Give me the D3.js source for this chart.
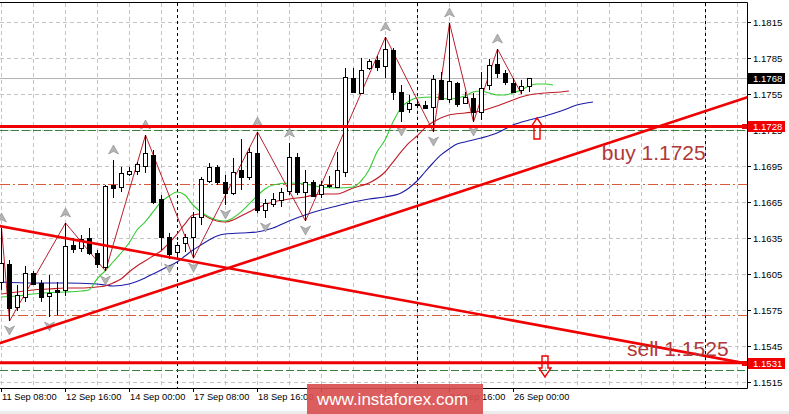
<html>
<head>
<script src="https://d3js.org/d3.v7.min.js"></script>
<style>
  body { margin: 0; background: #fff; }
  text { font-family: "Liberation Sans", Arial, sans-serif; }
</style>
</head>
<body>
<svg id="chart" width="789" height="414"></svg>
<script>
// EURUSD H4, bar 0 = 11 Sep 08:00
const opens = [1.15983,1.16133,1.15775,1.15858,1.16058,1.15975,1.15867,1.15917,1.15917,1.16292,
  1.16267,1.16350,1.16225,1.16108,1.16792,1.16775,1.16883,1.16908,1.16950,1.17042,
  1.16675,1.16358,1.16233,1.16308,1.16358,1.16525,1.16825,1.16942,1.16817,1.16725,
  1.16917,1.16858,1.17058,1.16583,1.16633,1.16667,1.16742,1.17025,1.16733,1.16817,
  1.16717,1.16792,1.16775,1.16900,1.17683,1.17558,1.17767,1.17833,1.17783,1.17917,
  1.17567,1.17425,1.17467,1.17458,1.17442,1.17667,1.17508,1.17642,1.17475,1.17517,
  1.17400,1.17625,1.17800,1.17725,1.17642,1.17583,1.17617];
const highs = [1.16433,1.16167,1.15958,1.16117,1.16075,1.16000,1.16042,1.15983,1.16475,1.16350,
  1.16375,1.16433,1.16250,1.16792,1.17000,1.16942,1.16942,1.16983,1.17208,1.17083,
  1.16708,1.16392,1.16317,1.16383,1.16567,1.16858,1.16975,1.16958,1.16875,1.17017,
  1.17175,1.17100,1.17233,1.16675,1.16725,1.16767,1.17142,1.17058,1.16917,1.16833,
  1.16825,1.16867,1.17067,1.17767,1.17767,1.17850,1.17842,1.17867,1.18025,1.17933,
  1.17625,1.17542,1.17500,1.17492,1.17708,1.17733,1.18142,1.17650,1.17567,1.17558,
  1.17733,1.17842,1.17925,1.17750,1.17683,1.17667,1.17683];
const lows = [1.15917,1.15658,1.15742,1.15817,1.15958,1.15817,1.15692,1.15708,1.15867,1.16225,
  1.16233,1.16208,1.16100,1.16075,1.16683,1.16733,1.16867,1.16875,1.16892,1.16633,
  1.16250,1.16175,1.16192,1.16233,1.16183,1.16458,1.16808,1.16792,1.16625,1.16708,
  1.16750,1.16833,1.16558,1.16517,1.16608,1.16608,1.16708,1.16708,1.16492,1.16692,
  1.16683,1.16767,1.16767,1.16858,1.17558,1.17558,1.17750,1.17742,1.17683,1.17500,
  1.17317,1.17392,1.17433,1.17425,1.17233,1.17500,1.17475,1.17442,1.17467,1.17317,
  1.17333,1.17583,1.17683,1.17625,1.17558,1.17550,1.17567];
const closes = [1.16142,1.15767,1.15875,1.16058,1.15967,1.15858,1.15892,1.15900,1.16283,1.16258,
  1.16342,1.16225,1.16133,1.16783,1.16767,1.16892,1.16908,1.16967,1.17058,1.16650,
  1.16358,1.16217,1.16292,1.16358,1.16525,1.16842,1.16942,1.16817,1.16725,1.16900,
  1.16858,1.17067,1.16583,1.16642,1.16675,1.16733,1.17025,1.16733,1.16817,1.16700,
  1.16792,1.16783,1.16917,1.17692,1.17567,1.17750,1.17825,1.17775,1.17925,1.17567,
  1.17408,1.17475,1.17460,1.17433,1.17675,1.17508,1.17658,1.17467,1.17525,1.17400,
  1.17600,1.17792,1.17725,1.17650,1.17567,1.17617,1.17680];

// Alligator lines: [bar, price]
const lips = [[0,1.15858],[2,1.15867],[4,1.15883],[6,1.15896],[8,1.15900],[10,1.15908],[11,1.15917],
  [12,1.16008],[13,1.16075],[14,1.16150],[15,1.16225],[16,1.16308],[17,1.16417],[18,1.16483],
  [19,1.16567],[20,1.16650],[21,1.16700],[22,1.16733],[23,1.16708],[24,1.16625],[25,1.16567],
  [26,1.16525],[27,1.16500],[28,1.16492],[29,1.16517],[30,1.16567],[31,1.16633],[32,1.16700],
  [33,1.16758],[34,1.16792],[36,1.16808],[38,1.16800],[40,1.16775],[42,1.16767],[44,1.16775],
  [45,1.16825],[46,1.16917],[47,1.17067],[48,1.17167],[49,1.17317],[50,1.17433],[51,1.17492],
  [52,1.17517],[54,1.17525],[56,1.17508],[58,1.17533],[59,1.17567],[60,1.17575],[61,1.17558],
  [62,1.17542],[63,1.17542],[64,1.17558],[65,1.17583],[66,1.17617],[67,1.17633],[68,1.17633],[69,1.17625]];
const teeth = [[0,1.15883],[2,1.15900],[4,1.15917],[6,1.15925],[8,1.15933],[10,1.15933],[12,1.15942],
  [13,1.15950],[14,1.15975],[15,1.16008],[16,1.16067],[17,1.16117],[18,1.16158],[19,1.16200],
  [20,1.16242],[21,1.16308],[22,1.16383],[23,1.16467],[24,1.16542],[25,1.16550],[26,1.16517],
  [27,1.16492],[28,1.16483],[29,1.16500],[30,1.16533],[31,1.16567],[32,1.16600],[34,1.16650],
  [36,1.16675],[38,1.16692],[40,1.16717],[42,1.16717],[44,1.16767],[46,1.16808],[48,1.16900],
  [49,1.16983],[50,1.17067],[51,1.17142],[52,1.17200],[53,1.17267],[54,1.17317],[56,1.17375],
  [58,1.17392],[60,1.17408],[62,1.17450],[63,1.17475],[64,1.17500],[65,1.17525],[66,1.17542],
  [68,1.17558],[70,1.17567],[71,1.17575]];
const jaw = [[0,1.15983],[4,1.15975],[8,1.15975],[12,1.15967],[13,1.15958],[14,1.15950],[16,1.15967],
  [18,1.16017],[19,1.16050],[20,1.16083],[21,1.16117],[22,1.16150],[23,1.16200],[24,1.16250],
  [25,1.16292],[26,1.16333],[27,1.16367],[28,1.16383],[30,1.16392],[32,1.16400],[34,1.16433],
  [36,1.16492],[38,1.16542],[40,1.16583],[42,1.16617],[44,1.16650],[46,1.16675],[48,1.16692],
  [50,1.16725],[51,1.16767],[52,1.16825],[53,1.16900],[54,1.16975],[55,1.17042],[56,1.17092],
  [57,1.17133],[58,1.17150],[60,1.17183],[62,1.17225],[64,1.17292],[66,1.17333],[68,1.17367],
  [70,1.17408],[72,1.17458],[74,1.17483]];

// zigzag turning bars, alternating high / low
const zigzagBars = [0,1,8,13,18,24,32,38,48,54,56,59,62,65];
const fractalUpBars = [0,8,14,18,32,36,48,56,62];
const fractalDownBars = [1,6,13,21,24,28,33,38,50,54,59];

const priceTicks = [1.1815,1.1785,1.1755,1.1725,1.1695,1.1665,1.1635,1.1605,1.1575,1.1545,1.1515];
const timeTickBars = [0,8,16,24,32,40,48,56,64];
// labels at bars 40 and 48 sit under the watermark and are not visible
const timeLabels = ["11 Sep 08:00","12 Sep 16:00","14 Sep 00:00","17 Sep 08:00","18 Sep 16:00",
  "","","24 Sep 16:00","26 Sep 00:00"];

const redLevels = [1.1728, 1.1531];
const greenLevels = [1.1725, 1.1525];
const dashDotLevels = [1.1680, 1.1571];
const separatorBars = [22, 52, 88];
const upTrend = [[-1,1.15455],[94,1.17538]];
const downTrend = [[-1,1.16460],[94,1.15294]];
const buyArrow = [67, 1.1735];
const sellArrow = [68, 1.15192];
const notes = [{t:"buy 1.1725", i:75.1, p:1.1700}, {t:"sell 1.1525", i:78.25, p:1.15367}];

const plotRight = 747, plotTop = 3, plotBottom = 388;
const x = d3.scaleLinear().domain([0, 66]).range([1, 529]);
const y = d3.scaleLinear().domain([1.1515, 1.1815]).range([382, 22]);

const svg = d3.select("#chart");
svg.append("rect").attr("width", 789).attr("height", 414).attr("fill", "#fff");
svg.append("rect").attr("y", 411).attr("width", 789).attr("height", 3).attr("fill", "#ececec");

svg.append("defs").append("clipPath").attr("id", "plot")
  .append("rect").attr("x", 0).attr("y", plotTop).attr("width", plotRight).attr("height", plotBottom - plotTop);
const g = svg.append("g").attr("clip-path", "url(#plot)");

// grid
g.selectAll(".vg").data(d3.range(0, 96, 4)).enter().append("line")
  .attr("x1", d => Math.round(x(d)) + 0.5).attr("x2", d => Math.round(x(d)) + 0.5)
  .attr("y1", plotTop).attr("y2", plotBottom)
  .attr("stroke", "#c4c4c4").attr("stroke-dasharray", "4,3");
g.selectAll(".hg").data(priceTicks).enter().append("line")
  .attr("x1", 0).attr("x2", plotRight)
  .attr("y1", d => Math.round(y(d)) + 0.5).attr("y2", d => Math.round(y(d)) + 0.5)
  .attr("stroke", "#c4c4c4").attr("stroke-dasharray", "4,3");

// period separators
g.selectAll(".sep").data(separatorBars).enter().append("line")
  .attr("x1", d => Math.round(x(d)) + 0.5).attr("x2", d => Math.round(x(d)) + 0.5)
  .attr("y1", plotTop).attr("y2", plotBottom)
  .attr("stroke", "#000").attr("stroke-dasharray", "3,3");

// bid line
g.append("line").attr("x1", 0).attr("x2", plotRight)
  .attr("y1", Math.round(y(closes[66])) + 0.5).attr("y2", Math.round(y(closes[66])) + 0.5)
  .attr("stroke", "#b4b4b4");

g.selectAll(".dd").data(dashDotLevels).enter().append("line")
  .attr("x1", 0).attr("x2", plotRight)
  .attr("y1", d => Math.round(y(d)) + 0.5).attr("y2", d => Math.round(y(d)) + 0.5)
  .attr("stroke", "#d95a36").attr("stroke-dasharray", "10,3,2,3");
g.selectAll(".gl").data(greenLevels).enter().append("line")
  .attr("x1", 0).attr("x2", plotRight)
  .attr("y1", d => Math.round(y(d)) + 0.5).attr("y2", d => Math.round(y(d)) + 0.5)
  .attr("stroke", "#3d7d3d").attr("stroke-dasharray", "8,3");

// alligator
const line = d3.line().x(d => x(d[0])).y(d => y(d[1])).curve(d3.curveMonotoneX);
g.append("path").datum(jaw).attr("d", line).attr("fill", "none").attr("stroke", "#1c1ca6").attr("stroke-width", 1.1);
g.append("path").datum(teeth).attr("d", line).attr("fill", "none").attr("stroke", "#c01c28").attr("stroke-width", 1.1);
g.append("path").datum(lips).attr("d", line).attr("fill", "none").attr("stroke", "#33cc33").attr("stroke-width", 1.1);

// zigzag
const zz = zigzagBars.map((b, k) => [b, k % 2 === 0 ? highs[b] : lows[b]]);
g.append("path").datum(zz)
  .attr("d", d3.line().x(d => x(d[0]) + 0.5).y(d => y(d[1])))
  .attr("fill", "none").attr("stroke", "#b8202c").attr("stroke-width", 1);

// candles
const bars = d3.range(opens.length);
const cg = g.append("g");
cg.selectAll(".wick").data(bars).enter().append("line")
  .attr("x1", i => Math.round(x(i)) + 0.5).attr("x2", i => Math.round(x(i)) + 0.5)
  .attr("y1", i => y(highs[i])).attr("y2", i => y(lows[i]))
  .attr("stroke", "#000");
cg.selectAll(".body").data(bars).enter().append("rect")
  .attr("x", i => Math.round(x(i)) - 1.5)
  .attr("width", 4)
  .attr("y", i => Math.round(y(Math.max(opens[i], closes[i]))) + 0.5)
  .attr("height", i => Math.max(1, Math.round(y(Math.min(opens[i], closes[i]))) - Math.round(y(Math.max(opens[i], closes[i])))))
  .attr("fill", i => closes[i] >= opens[i] ? "#fff" : "#000")
  .attr("stroke", "#000");

// fractals
const upShape = "M0,-5 L5,4 L0,1.5 L-5,4 Z";
g.selectAll(".fu").data(fractalUpBars).enter().append("path")
  .attr("d", upShape)
  .attr("transform", i => `translate(${Math.round(x(i)) + 0.5},${y(highs[i]) - 10})`)
  .attr("fill", "#b4b4b4").attr("stroke", "#8a8a8a").attr("stroke-width", 0.6);
g.selectAll(".fd").data(fractalDownBars).enter().append("path")
  .attr("d", upShape)
  .attr("transform", i => `translate(${Math.round(x(i)) + 0.5},${y(lows[i]) + 9}) rotate(180)`)
  .attr("fill", "#b4b4b4").attr("stroke", "#8a8a8a").attr("stroke-width", 0.6);

// horizontal levels and trend lines
g.selectAll(".rl").data(redLevels).enter().append("line")
  .attr("x1", 0).attr("x2", plotRight)
  .attr("y1", d => y(d)).attr("y2", d => y(d))
  .attr("stroke", "#f00000").attr("stroke-width", 3);
[upTrend, downTrend].forEach(t => {
  g.append("line")
    .attr("x1", x(t[0][0])).attr("y1", y(t[0][1]))
    .attr("x2", x(t[1][0])).attr("y2", y(t[1][1]))
    .attr("stroke", "#f00000").attr("stroke-width", 2.6);
});

// buy / sell arrows
g.append("path").attr("d", "M0,0 L6,9 L3,9 L3,21 L-3,21 L-3,9 L-6,9 Z")
  .attr("transform", `translate(${x(buyArrow[0])},${y(buyArrow[1])})`)
  .attr("fill", "none").attr("stroke", "#f00000").attr("stroke-width", 1.4);
g.append("path").attr("d", "M0,0 L6,-9 L3,-9 L3,-21 L-3,-21 L-3,-9 L-6,-9 Z")
  .attr("transform", `translate(${x(sellArrow[0])},${y(sellArrow[1])})`)
  .attr("fill", "none").attr("stroke", "#f00000").attr("stroke-width", 1.4);

g.selectAll(".note").data(notes).enter().append("text")
  .attr("x", d => x(d.i)).attr("y", d => y(d.p))
  .attr("font-size", 21).attr("fill", "#b03838")
  .text(d => d.t);

// frame
svg.append("line").attr("x1", 0).attr("x2", plotRight + 0.5).attr("y1", plotBottom + 0.5).attr("y2", plotBottom + 0.5).attr("stroke", "#000");
svg.append("line").attr("x1", plotRight + 0.5).attr("x2", plotRight + 0.5).attr("y1", plotTop - 0.5).attr("y2", plotBottom + 0.5).attr("stroke", "#000");
svg.append("line").attr("x1", 0).attr("x2", plotRight + 0.5).attr("y1", plotTop - 0.5).attr("y2", plotTop - 0.5).attr("stroke", "#000");

// right axis
svg.selectAll(".pt").data(priceTicks).enter().append("line")
  .attr("x1", plotRight).attr("x2", plotRight + 4)
  .attr("y1", d => Math.round(y(d)) + 0.5).attr("y2", d => Math.round(y(d)) + 0.5)
  .attr("stroke", "#000");
svg.selectAll(".pl").data(priceTicks).enter().append("text")
  .attr("x", 753).attr("y", d => y(d) + 3.5)
  .attr("font-size", 9.6).attr("fill", "#000")
  .text(d => d.toFixed(4));

const boxes = [[closes[66], "#000"], [redLevels[0], "#f00000"], [redLevels[1], "#f00000"]];
boxes.forEach(b => {
  const yy = Math.round(y(b[0]));
  svg.append("rect").attr("x", 748).attr("y", yy - 5).attr("width", 37).attr("height", 11).attr("fill", b[1]);
  if (b[1] !== "#000") svg.append("rect").attr("x", 742).attr("y", yy - 2).attr("width", 5).attr("height", 5).attr("fill", b[1]);
  svg.append("text").attr("x", 753).attr("y", yy + 4).attr("font-size", 9.6).attr("fill", "#fff").text(b[0].toFixed(4));
});

// bottom axis
svg.selectAll(".tt").data(timeTickBars).enter().append("line")
  .attr("x1", i => Math.round(x(i)) + 0.5).attr("x2", i => Math.round(x(i)) + 0.5)
  .attr("y1", plotBottom).attr("y2", plotBottom + 4)
  .attr("stroke", "#000");
svg.selectAll(".tl").data(timeTickBars.filter((i, k) => timeLabels[k])).enter().append("text")
  .attr("x", i => x(i) + 1).attr("y", 400)
  .attr("font-size", 9.3).attr("fill", "#000")
  .text(i => timeLabels[timeTickBars.indexOf(i)]);

// watermark
svg.append("rect").attr("x", 307).attr("y", 384).attr("width", 176).attr("height", 30)
  .attr("fill", "#d84f4f").attr("opacity", 0.92);
svg.append("text").attr("x", 317).attr("y", 405).attr("font-size", 17).attr("fill", "#fff")
  .text("www.instaforex.com");
</script>
</body>
</html>
